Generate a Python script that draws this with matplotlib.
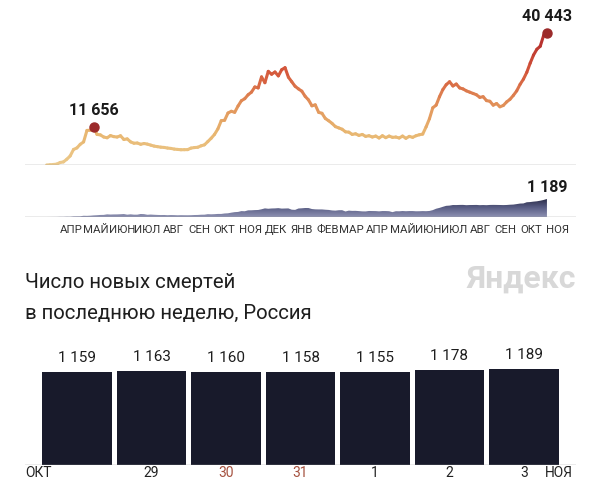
import numpy as np
import pandas as pd
import matplotlib
matplotlib.use('Agg')
import matplotlib.pyplot as plt
import matplotlib.dates as mdates
from matplotlib.collections import LineCollection
from matplotlib.colors import LinearSegmentedColormap, Normalize
from matplotlib.transforms import blended_transform_factory

plt.rcParams['font.family'] = ['Roboto', 'DejaVu Sans']

# daily new cases, Russia, every 4 days from 2020-03-17 to 2021-11-03
cases = [
    20, 60, 160, 270,                                      # 2020 mar
    770, 950, 1780, 2770, 4780, 5240, 6360, 7100,          # apr
    10630, 10700, 11656, 9400, 9260, 8600, 8370,           # may
    9040, 8720, 8600, 8990, 7840, 8030, 7110, 6690,        # jun
    6760, 6370, 6610, 6420, 6110, 5810, 5640, 5480,        # jul
    5400, 5210, 5100, 4890, 4790, 4690, 4710,              # aug
    4730, 5200, 5360, 5450, 5900, 6200, 7210, 8230,        # sep
    9410, 11110, 13630, 13750, 15980, 16520, 16200, 18140, # oct
    19770, 20390, 21600, 22400, 24000, 23700, 27100,       # nov
    25300, 28800, 27900, 28600, 27400, 29300, 29930, 27000,  # dec
    25600, 24200, 23400, 22700, 21100, 20000, 18200, 18500,  # 2021 jan
    16200, 15900, 14300, 13600, 12800, 11800, 11400,       # feb
    11000, 10200, 10100, 9400, 9600, 9100, 9400,           # mar
    8800, 9000, 8600, 8900, 8300, 9000, 8400, 8900,        # apr
    8500, 8600, 8300, 8900, 8200, 8800, 8500, 9000,        # may
    9300, 9500, 11700, 14200, 17600, 18400, 21000,         # jun
    23200, 24700, 25600, 24300, 24900, 23700, 23400, 22800,  # jul
    22400, 22000, 21600, 20800, 21000, 19800, 19600, 18400,  # aug
    18900, 17900, 18300, 19400, 20200, 21400, 22800,       # sep
    24800, 26400, 28500, 31300, 33800, 35600, 36500, 39800,  # oct
    40443,                                                 # nov
]

# daily deaths, same dates
deaths = [
    0, 1, 3, 4,
    12, 11, 22, 18, 41, 45, 47, 82,
    76, 88, 107, 119, 135, 139, 174,
    162, 169, 171, 181, 194, 153, 176, 154,
    154, 198, 188, 147, 161, 147, 136, 129,
    133, 119, 129, 124, 114, 121, 117,
    115, 119, 131, 135, 150, 153, 186, 177,
    186, 202, 202, 232, 244, 286, 320, 334,
    389, 378, 439, 442, 456, 463, 510,
    569, 544, 562, 568, 585, 554, 561, 567,
    482, 470, 561, 575, 594, 592, 526, 505,
    499, 500, 480, 466, 432, 419, 446,
    450, 364, 420, 403, 406, 390, 371,
    367, 398, 393, 389, 372, 393, 391, 381,
    320, 381, 375, 395, 381, 392, 392, 377,
    380, 390, 383, 398, 453, 546, 601,
    672, 737, 752, 791, 788, 796, 799, 780,
    790, 792, 796, 781, 789, 780, 795, 799,
    796, 792, 786, 793, 810, 820, 852,
    887, 895, 973, 986, 1015, 1036, 1075, 1123,
    1189,
]

months = ['АПР', 'МАЙ', 'ИЮН', 'ИЮЛ', 'АВГ', 'СЕН', 'ОКТ', 'НОЯ', 'ДЕК', 'ЯНВ',
          'ФЕВ', 'МАР', 'АПР', 'МАЙ', 'ИЮН', 'ИЮЛ', 'АВГ', 'СЕН', 'ОКТ', 'НОЯ']

# weekly deaths, last 7 days
week_days = ['28', '29', '30', '31', '1', '2', '3']
week_deaths = [1159, 1163, 1160, 1158, 1155, 1178, 1189]
day_colors = ['#222222', '#222222', '#a5513f', '#a5513f', '#222222', '#222222', '#222222']

dates = pd.date_range('2020-03-17', periods=len(cases), freq='4D')
xd = mdates.date2num(dates)

W, H = 600, 492
fig = plt.figure(figsize=(W / 100, H / 100), dpi=100)


def px_axes(x0, x1, y_top, y_bot):
    return fig.add_axes([x0 / W, 1 - y_bot / H, (x1 - x0) / W, (y_bot - y_top) / H])


def clean(ax):
    for s in ax.spines.values():
        s.set_visible(False)
    ax.tick_params(length=0)
    ax.set_yticks([])


def fmt(v):
    return f'{v:,}'.replace(',', ' ')


# pixel layout
LEFT, RIGHT = 25, 576
ref = mdates.date2num(pd.Timestamp('2020-04-15'))
ppd = 0.8394  # pixels per day
xlim = (ref - (71 - LEFT) / ppd, ref + (RIGHT - 71) / ppd)

# --- cases line ---
ax = px_axes(LEFT, RIGHT, 5, 165)
clean(ax)
ax.set_xticks([])
ax.set_xlim(*xlim)
ax.set_ylim(0, 307.5 * 160)
cmap = LinearSegmentedColormap.from_list('cases', [
    (0.0, '#ecca8c'), (0.25, '#e8b670'), (0.45, '#e2935a'),
    (0.72, '#d4553a'), (1.0, '#b12a2c')])
cs = np.array(cases, dtype=float)
pts = np.column_stack([xd, cs]).reshape(-1, 1, 2)
segs = np.concatenate([pts[:-1], pts[1:]], axis=1)
lc = LineCollection(segs, cmap=cmap, norm=Normalize(0, max(cases)),
                    linewidths=2.2, capstyle='round', joinstyle='round')
lc.set_array((cs[:-1] + cs[1:]) / 2)
ax.add_collection(lc)
ax.axhline(0, color='#9a9a9a', lw=1)
first_peak = int(np.argmax(cs[:30]))
for i in [first_peak, len(cs) - 1]:
    ax.plot(xd[i], cs[i], 'o', color='#9b2a2a', ms=6.5, zorder=5)
    ax.annotate(fmt(cases[i]), (xd[i], cs[i]), xytext=(0, 12),
                textcoords='offset points', ha='center', va='center',
                fontsize=11.5, fontweight='bold', color='#1a1a1a')

# --- deaths area ---
ax2 = px_axes(LEFT, RIGHT, 177, 217)
clean(ax2)
top = 66.0 * 40
grad = np.linspace(0, 1, 256).reshape(-1, 1)
dcmap = LinearSegmentedColormap.from_list('deaths', ['#8e91b2', '#5a5e85', '#262844'])
poly = ax2.fill_between(xd, deaths, 0, facecolor='none', lw=0)
im = ax2.imshow(grad, extent=[xd[0], xd[-1], 0, 1189], origin='lower',
                aspect='auto', cmap=dcmap, zorder=2)
im.set_clip_path(poly.get_paths()[0], transform=ax2.transData)
ax2.set_xlim(*xlim)
ax2.set_ylim(0, top)
ax2.axhline(0, color='#9a9a9a', lw=1, zorder=3)
ax2.annotate(fmt(deaths[-1]), (xd[-1], deaths[-1]), xytext=(0, 8),
             textcoords='offset points', ha='center', va='center',
             fontsize=11.5, fontweight='bold', color='#1a1a1a')
mids = mdates.date2num(pd.date_range('2020-04-01', periods=len(months), freq='MS')
                       + pd.Timedelta(days=14))
ax2.set_xticks(mids)
ax2.set_xticklabels(months, fontsize=8.2, color='#333333')
ax2.tick_params(axis='x', pad=6)

# --- title & watermark ---
fig.text(LEFT / W, 1 - 283 / H, 'Число новых смертей', fontsize=14.7,
         color='#1e1e1e', va='center', ha='left')
fig.text(LEFT / W, 1 - 313 / H, 'в последнюю неделю, Россия', fontsize=14.7,
         color='#1e1e1e', va='center', ha='left')
fig.text(RIGHT / W, 1 - 279 / H, 'Яндекс', fontsize=23, fontweight='bold',
         color='#d8d8d8', va='center', ha='right')

# --- weekly bars ---
ax3 = px_axes(LEFT, RIGHT, 340, 465)
clean(ax3)
pitch = 74.5
pos = np.arange(len(week_deaths))
ax3.bar(pos, week_deaths, width=0.933, color='#181a2b')
ax3.set_xlim(-(77 - LEFT) / pitch, (RIGHT - 77) / pitch)
ax3.set_ylim(0, 12.42 * 125)
ax3.axhline(0, color='#9a9a9a', lw=1)
for p, v in zip(pos, week_deaths):
    ax3.annotate(fmt(v), (p, v), xytext=(0, 5),
                 textcoords='offset points', ha='center', va='bottom',
                 fontsize=11, color='#1e1e1e')
ax3.set_xticks(pos[1:])
ax3.set_xticklabels(week_days[1:], fontsize=10)
for lbl, c in zip(ax3.get_xticklabels(), day_colors[1:]):
    lbl.set_color(c)
ax3.tick_params(axis='x', pad=1)
tr = blended_transform_factory(ax3.transData, ax3.transAxes)
ax3.text(ax3.get_xlim()[0], -0.01, 'ОКТ', transform=tr, ha='left', va='top',
         fontsize=10, color='#222222')
ax3.text((559 - 77) / pitch, -0.01, 'НОЯ', transform=tr, ha='center', va='top',
         fontsize=10, color='#222222')

fig.savefig('out.png', dpi=100)
